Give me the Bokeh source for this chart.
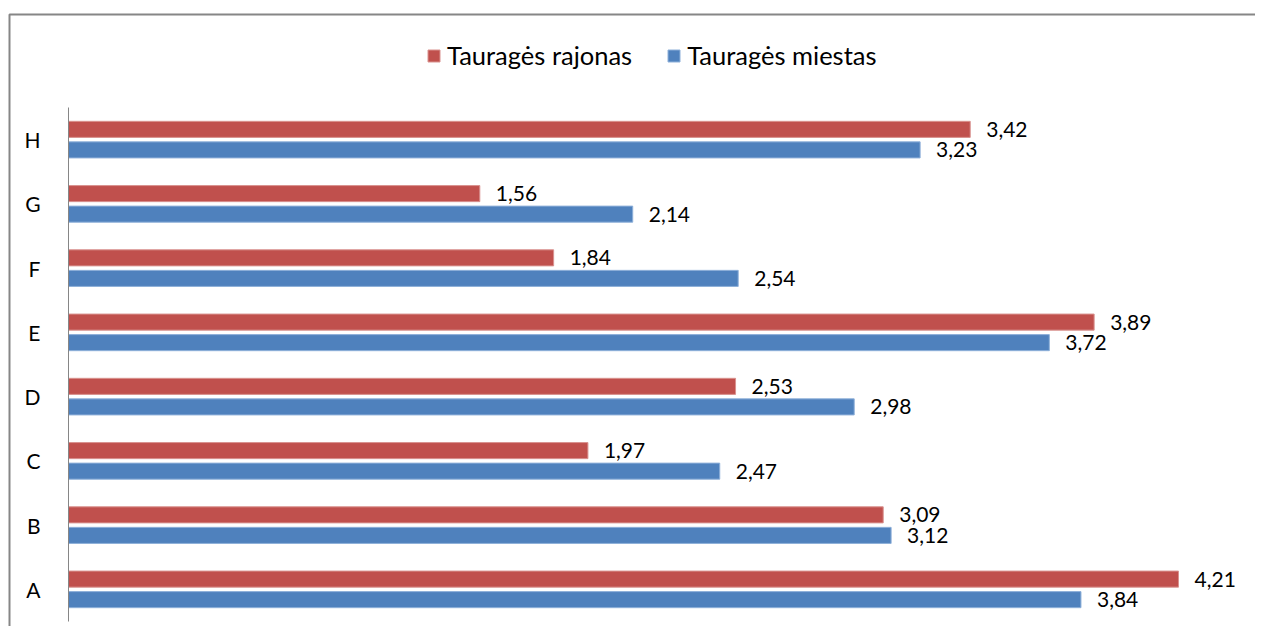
from bokeh.plotting import figure
from bokeh.models import ColumnDataSource, Range1d, Legend, BoxAnnotation, FixedTicker
from bokeh.transform import dodge
from bokeh.core.properties import value
from bokeh.embed import file_html
from bokeh.resources import INLINE

categories = ["A", "B", "C", "D", "E", "F", "G", "H"]
rajonas = [4.21, 3.09, 1.97, 2.53, 3.89, 1.84, 1.56, 3.42]
miestas = [3.84, 3.12, 2.47, 2.98, 3.72, 2.54, 2.14, 3.23]
series_names = ["Tauragės rajonas", "Tauragės miestas"]


def fmt(v):
    return f"{v:.2f}".replace(".", ",")


positions = [i + 0.5 for i in range(len(categories))]  # band centres

source = ColumnDataSource(dict(
    cat=categories,
    pos=positions,
    raj=rajonas,
    mie=miestas,
    raj_lbl=[fmt(v) for v in rajonas],
    mie_lbl=[fmt(v) for v in miestas],
))

FONT = "Lato"
RED = "#C0504D"
BLUE = "#4F81BD"
GRAY = "#868686"

W, H = 1255, 626
PX_X = 263.66   # pixels per value unit
PX_Y = 64.25    # pixels per category band
X0 = 68         # pixel of value 0
Y_TOP = 107     # pixel of top of category area
Y_BOT = 621     # pixel of bottom of category area

x_start = -X0 / PX_X
x_end = (W - X0) / PX_X
y_start = -(H - Y_BOT) / PX_Y
y_end = len(categories) + Y_TOP / PX_Y

p = figure(
    width=W, height=H,
    y_range=Range1d(y_start, y_end),
    x_range=Range1d(x_start, x_end),
    output_backend="svg", toolbar_location=None,
    x_axis_location=None,
    min_border=0,
)
p.outline_line_color = None
p.grid.visible = False

r1 = p.hbar(y=dodge("pos", 0.16), left=0, right="raj", height=0.25,
            fill_color=RED, line_color="#D9928F", line_width=1, source=source)
r2 = p.hbar(y=dodge("pos", -0.16), left=0, right="mie", height=0.25,
            fill_color=BLUE, line_color="#8EB0D9", line_width=1, source=source)

for col, lbl, off in (("raj", "raj_lbl", 0.16), ("mie", "mie_lbl", -0.16)):
    p.text(x=col, y=dodge("pos", off), text=lbl, source=source,
           x_offset=16, text_baseline="middle", text_align="left",
           text_font=value(FONT), text_font_size="21px", text_color="#000000")

ax = p.yaxis[0]
ax.fixed_location = 0
ax.bounds = (0, len(categories))
ax.ticker = FixedTicker(ticks=positions)
ax.major_label_overrides = {pos: cat for pos, cat in zip(positions, categories)}
ax.axis_line_color = GRAY
ax.axis_line_width = 1
ax.major_tick_line_color = None
ax.minor_tick_line_color = None
ax.major_label_text_font = FONT
ax.major_label_text_font_size = "21px"
ax.major_label_text_color = "#000000"
ax.major_label_standoff = 22

legend = Legend(
    items=[(series_names[0], [r1]), (series_names[1], [r2])],
    orientation="horizontal", location=(426, H - 70),
    label_text_font=FONT, label_text_font_size="25.5px", label_text_color="#000000",
    glyph_width=15, glyph_height=15, label_standoff=6, spacing=34,
    padding=0, margin=0, border_line_color=None, background_fill_alpha=0,
)
p.add_layout(legend)

# chart-area border (top and left edges visible, the rest runs off the canvas)
border = BoxAnnotation(
    left=-(X0 - 9) / PX_X, top=len(categories) + (Y_TOP - 14) / PX_Y,
    right=x_end + 1, bottom=y_start - 1,
    fill_alpha=0, line_color=GRAY, line_alpha=1.0, line_width=2,
)
p.add_layout(border)

open("out.html", "w").write(file_html(p, INLINE))
